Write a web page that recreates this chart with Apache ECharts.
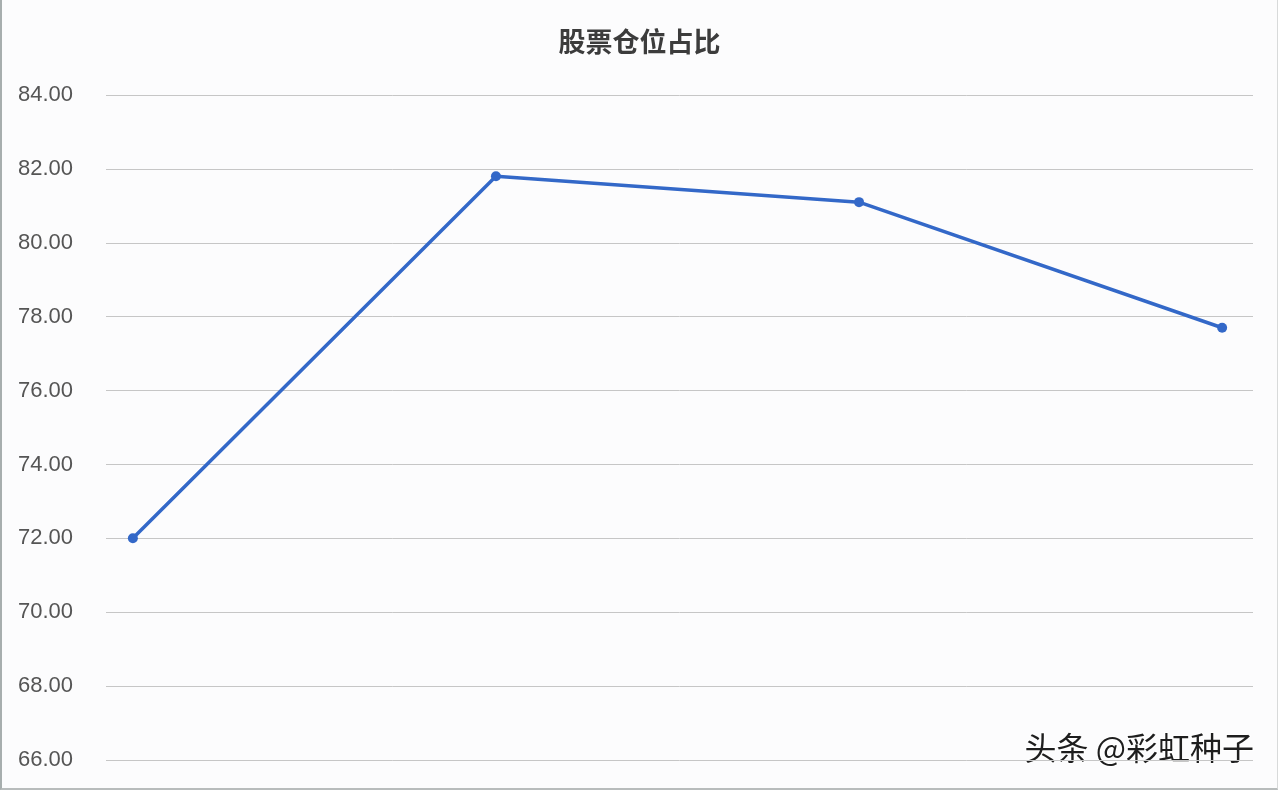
<!DOCTYPE html>
<html>
<head>
<meta charset="utf-8">
<script src="https://cdn.jsdelivr.net/npm/echarts@6/dist/echarts.min.js"></script>
<style>
  html, body { margin: 0; padding: 0; background: #fcfcfd; }
  #chart { width: 1278px; height: 790px; box-sizing: border-box; border-left: 2px solid #a7aeae; border-bottom: 2px solid #b8bcbc; border-right: 1px solid #d8dada; }
</style>
</head>
<body>
<div id="chart"></div>
<script>
const titleText = '股票仓位占比';
const categories = ['一季度', '二季度', '三季度', '四季度'];
const stockPosition = [72.0, 81.8, 81.1, 77.7];
const yTicks = [66, 68, 70, 72, 74, 76, 78, 80, 82, 84];
const watermark = '头条 @彩虹种子';

const chart = echarts.init(document.getElementById('chart'));
chart.setOption({
  backgroundColor: '#fcfcfd',
  animation: false,
  title: {
    text: titleText,
    left: 'center',
    top: 23,
    textStyle: { fontFamily: 'Noto Sans CJK SC', fontSize: 27, fontWeight: 'bold', color: '#3c3c3c' }
  },
  grid: { left: 104, right: 24, top: 95, bottom: 28 },
  xAxis: {
    type: 'value',
    min: -0.074,
    max: 3.085,
    show: false
  },
  yAxis: {
    type: 'value',
    min: yTicks[0],
    max: yTicks[yTicks.length - 1],
    interval: 2,
    axisLine: { show: false },
    axisTick: { show: false },
    axisLabel: {
      margin: 33,
      fontFamily: 'Liberation Sans',
      fontSize: 22,
      color: '#555555',
      padding: [4, 0, 0, 0],
      formatter: v => v.toFixed(2)
    },
    splitLine: { lineStyle: { color: '#c6c6c6', width: 1 } }
  },
  series: [{
    name: titleText,
    type: 'line',
    data: stockPosition.map((v, i) => [i, v]),
    symbol: 'circle',
    symbolSize: 10,
    lineStyle: { color: '#3368c8', width: 3.5 },
    itemStyle: { color: '#3368c8' }
  }],
  graphic: [{
    type: 'text',
    right: 22,
    top: 731,
    style: {
      text: watermark,
      fontFamily: 'Noto Sans CJK SC',
      fontSize: 32,
      fill: '#1e1e1e',
      stroke: '#ffffff',
      lineWidth: 2,
      shadowColor: 'rgba(255,255,255,1)',
      shadowOffsetX: 2,
      shadowOffsetY: 2,
      shadowBlur: 0
    }
  }]
});
</script>
</body>
</html>
